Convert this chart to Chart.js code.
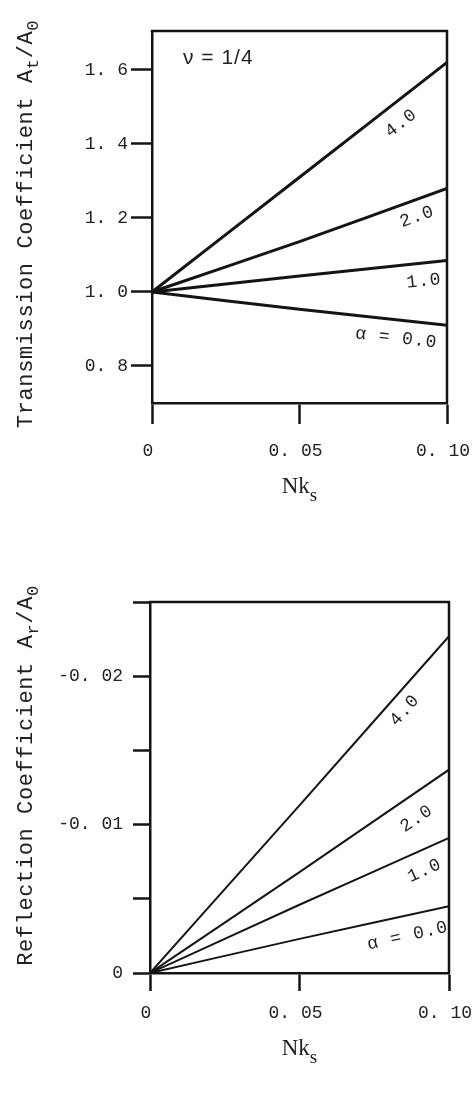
<!DOCTYPE html>
<html>
<head>
<meta charset="utf-8">
<script src="https://cdn.jsdelivr.net/npm/chart.js@4.4.0/dist/chart.umd.min.js"></script>
<style>
  html, body { margin: 0; padding: 0; background: #fff; }
  #wrap { position: relative; width: 472px; height: 1098px; }
  .panel { position: absolute; left: 0; width: 472px; }
</style>
</head>
<body>
<div id="wrap">
  <div class="panel" style="top:0;height:540px"><canvas id="trans" width="472" height="540"></canvas></div>
  <div class="panel" style="top:540px;height:558px"><canvas id="refl" width="472" height="558"></canvas></div>
</div>
<script>
// ---- data ----
const NKS = [0, 0.05, 0.10];
const ALPHA_LABELS = ['4.0', '2.0', '1.0', 'α = 0.0'];

// transmission coefficient At/A0, nu = 1/4
const TRANS_A40 = [1.0, 1.31, 1.62];
const TRANS_A20 = [1.0, 1.136, 1.28];
const TRANS_A10 = [1.0, 1.043, 1.085];
const TRANS_A00 = [1.0, 0.953, 0.91];

// reflection coefficient Ar/A0
const REFL_A40 = [0, -0.0113, -0.0227];
const REFL_A20 = [0, -0.0068, -0.0137];
const REFL_A10 = [0, -0.0046, -0.0091];
const REFL_A00 = [0, -0.0023, -0.0045];

const X_TICKS = [0, 0.05, 0.10];
const X_TICK_LABELS = ['0', '0. 05', '0. 10'];
const TRANS_Y_TICKS = [0.8, 1.0, 1.2, 1.4, 1.6];
const TRANS_Y_LABELS = ['0. 8', '1. 0', '1. 2', '1. 4', '1. 6'];
const REFL_Y_TICKS = [0, -0.005, -0.01, -0.015, -0.02, -0.025];
const REFL_Y_LABELS = ['0', '', '-0. 01', '', '-0. 02', ''];

const INK = '#141414';
const TEXT = '#222222';
const MONO = '"Liberation Mono", "Courier New", monospace';

// draw a run of text with subscripts, centred on (x, y) after rotation
function richText(ctx, parts, x, y, rot, font, subFont, drop, spacing) {
  ctx.save();
  ctx.translate(x, y);
  ctx.rotate(rot);
  ctx.textAlign = 'left';
  ctx.textBaseline = 'alphabetic';
  ctx.letterSpacing = spacing || '0px';
  let w = 0;
  for (const p of parts) {
    ctx.font = p.sub ? subFont : font;
    w += ctx.measureText(p.t).width;
  }
  let cx = -w / 2;
  for (const p of parts) {
    ctx.font = p.sub ? subFont : font;
    ctx.fillText(p.t, cx, p.sub ? drop : 0);
    cx += ctx.measureText(p.t).width;
  }
  ctx.restore();
}

// frame (top + right edges), curve labels and axis titles
const decorations = {
  id: 'decorations',
  afterDatasetsDraw(chart, args, o) {
    const { ctx, chartArea: a, scales: { x, y } } = chart;
    ctx.save();
    ctx.strokeStyle = INK;
    ctx.lineWidth = o.frameWidth;
    ctx.beginPath();
    ctx.moveTo(a.left - o.frameWidth / 2, a.top);
    ctx.lineTo(a.right, a.top);
    ctx.lineTo(a.right, a.bottom);
    ctx.stroke();

    // labels along each curve, rotated to the curve's slope
    ctx.fillStyle = TEXT;
    ctx.font = o.labelFont;
    ctx.textAlign = 'center';
    ctx.textBaseline = 'middle';
    ctx.letterSpacing = '1px';
    chart.data.datasets.forEach((ds, i) => {
      const d = ds.data;
      const p0 = { x: x.getPixelForValue(d[0].x), y: y.getPixelForValue(d[0].y) };
      const p1 = { x: x.getPixelForValue(d[d.length - 1].x), y: y.getPixelForValue(d[d.length - 1].y) };
      const ang = Math.atan2(p1.y - p0.y, p1.x - p0.x);
      const at = o.labelAt[i];
      ctx.save();
      ctx.translate(x.getPixelForValue(at[0]), y.getPixelForValue(at[1]));
      ctx.rotate(ang);
      ctx.fillText(ds.label, 0, 0);
      ctx.restore();
    });
    ctx.letterSpacing = '0px';

    // y title (rotated) and x title
    richText(ctx, o.yTitle, o.yTitleX, (a.top + a.bottom) / 2 + o.yTitleShift, -Math.PI / 2,
      '22px ' + MONO, '17px ' + MONO, 6, '0.6px');
    richText(ctx, [{ t: 'Nk' }, { t: 's', sub: true }], (a.left + a.right) / 2, a.bottom + o.xTitleDrop, 0,
      '23px "Liberation Serif", serif', '19px "Liberation Serif", serif', 8);

    if (o.note) {
      ctx.font = '21px "Liberation Sans", sans-serif';
      ctx.letterSpacing = '1px';
      ctx.textAlign = 'left';
      ctx.fillText(o.note.text, x.getPixelForValue(o.note.at[0]), y.getPixelForValue(o.note.at[1]));
    }
    ctx.restore();
  }
};

function makePanel(canvasId, spec) {
  const datasets = spec.series.map((vals, i) => ({
    label: ALPHA_LABELS[i],
    data: NKS.map((v, k) => ({ x: v, y: vals[k] })),
    borderColor: INK,
    borderWidth: spec.lineWidth,
    pointRadius: 0,
    tension: 0.2,
    fill: false,
  }));

  const tickFont = { family: MONO, size: spec.tickSize };

  return new Chart(document.getElementById(canvasId), {
    type: 'line',
    data: { datasets },
    options: {
      responsive: false,
      animation: false,
      events: [],
      layout: { padding: { top: spec.top, right: spec.right, left: 0, bottom: 0 } },
      scales: {
        x: {
          type: 'linear',
          min: 0,
          max: 0.10,
          afterBuildTicks: s => { s.ticks = X_TICKS.map(v => ({ value: v })); },
          afterFit: s => { s.height = spec.xAxisH; s.paddingLeft = 0; s.paddingRight = 0; },
          ticks: {
            font: tickFont,
            color: TEXT,
            padding: spec.xTickPad,
            labelOffset: -4,
            maxRotation: 0,
            autoSkip: false,
            callback: (v, i) => X_TICK_LABELS[i],
          },
          grid: { drawOnChartArea: false, tickLength: spec.xTickLen, tickWidth: 2.5, tickColor: INK },
          border: { display: true, color: INK, width: 2.5 },
        },
        y: {
          type: 'linear',
          min: spec.yMin,
          max: spec.yMax,
          reverse: spec.reverse,
          afterBuildTicks: s => { s.ticks = spec.yTicks.map(v => ({ value: v })); },
          afterFit: s => { s.width = spec.yAxisW; s.paddingTop = 0; s.paddingBottom = 0; },
          ticks: {
            font: tickFont,
            color: TEXT,
            padding: spec.yTickPad,
            autoSkip: false,
            callback: (v, i) => spec.yLabels[i],
          },
          grid: { drawOnChartArea: false, tickLength: spec.yTickLen, tickWidth: 2.5, tickColor: INK },
          border: { display: true, color: INK, width: 2.5 },
        },
      },
      plugins: {
        legend: { display: false },
        tooltip: { enabled: false },
        decorations: {
          frameWidth: 2.5,
          labelFont: spec.tickSize + 'px ' + MONO,
          labelAt: spec.labelAt,
          yTitle: spec.yTitle,
          yTitleX: 32,
          yTitleShift: spec.yTitleShift,
          xTitleDrop: spec.xTitleDrop,
          note: spec.note,
        },
      },
    },
    plugins: [decorations],
  });
}

makePanel('trans', {
  series: [TRANS_A40, TRANS_A20, TRANS_A10, TRANS_A00],
  yMin: 0.7, yMax: 1.705, reverse: false,
  yTicks: TRANS_Y_TICKS, yLabels: TRANS_Y_LABELS,
  top: 31, right: 25, yAxisW: 152, xAxisH: 137,
  xTickLen: 21, yTickLen: 21, xTickPad: 16, yTickPad: 3,
  tickSize: 18, lineWidth: 3,
  labelAt: [[0.0845, 1.456], [0.0899, 1.203], [0.0922, 1.029], [0.0828, 0.875]],
  yTitle: [{ t: 'Transmission Coefficient A' }, { t: 't', sub: true }, { t: '/A' }, { t: '0', sub: true }],
  yTitleShift: 7,
  xTitleDrop: 90,
  note: { text: 'ν = 1/4', at: [0.0105, 1.632] },
});

makePanel('refl', {
  series: [REFL_A40, REFL_A20, REFL_A10, REFL_A00],
  yMin: -0.025, yMax: 0, reverse: true,
  yTicks: REFL_Y_TICKS, yLabels: REFL_Y_LABELS,
  top: 62, right: 23, yAxisW: 150, xAxisH: 125,
  xTickLen: 18, yTickLen: 17, xTickPad: 11, yTickPad: 10,
  tickSize: 18, lineWidth: 2,
  labelAt: [[0.0852, -0.0177], [0.0892, -0.0104], [0.0919, -0.0069], [0.0862, -0.0025]],
  yTitle: [{ t: 'Reflection Coefficient A' }, { t: 'r', sub: true }, { t: '/A' }, { t: '0', sub: true }],
  yTitleShift: -12,
  xTitleDrop: 82,
  note: null,
});
</script>
</body>
</html>
